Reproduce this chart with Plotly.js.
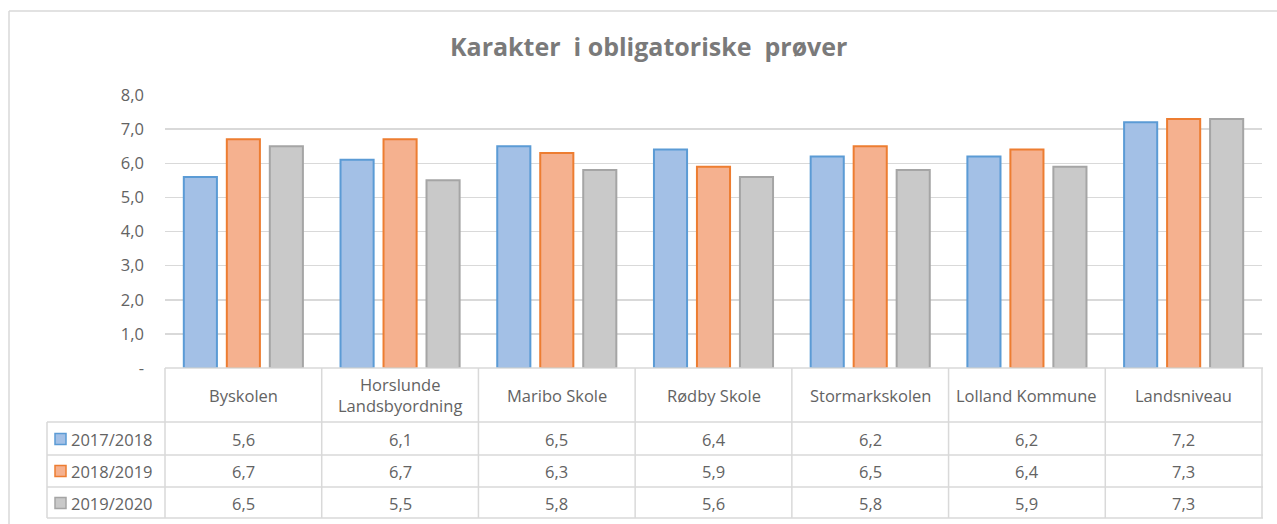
<!DOCTYPE html>
<html>
<head>
<meta charset="utf-8">
<script src="https://cdn.plot.ly/plotly-3.0.1.min.js"></script>
<style>html,body{margin:0;padding:0;background:#fff;}#chart{width:1277px;height:524px;}</style>
</head>
<body>
<div id="chart"></div>
<script>
var categories = ["Byskolen", "Horslunde Landsbyordning", "Maribo Skole", "Rødby Skole", "Stormarkskolen", "Lolland Kommune", "Landsniveau"];
var categoryLabels = ["Byskolen", "Horslunde<br>Landsbyordning", "Maribo Skole", "Rødby Skole", "Stormarkskolen", "Lolland Kommune", "Landsniveau"];
var seriesNames = ["2017/2018", "2018/2019", "2019/2020"];
var values2017 = [5.6, 6.1, 6.5, 6.4, 6.2, 6.2, 7.2];
var values2018 = [6.7, 6.7, 6.3, 5.9, 6.5, 6.4, 7.3];
var values2019 = [6.5, 5.5, 5.8, 5.6, 5.8, 5.9, 7.3];
var yTickVals = [0, 1, 2, 3, 4, 5, 6, 7, 8];
var yTickText = ["-", "1,0", "2,0", "3,0", "4,0", "5,0", "6,0", "7,0", "8,0"];

var seriesValues = [values2017, values2018, values2019];
var fills = ["#a3c0e6", "#f5b18f", "#c9c9c9"];
var outlines = ["#5b9bd5", "#ed7d31", "#a5a5a5"];

var W = 1277, H = 524;
var mL = 165, mR = 15, mT = 95, mB = 156;
var pw = W - mL - mR, ph = H - mT - mB;
function X(px) { return (px - mL) / pw; }
function Y(py) { return (H - mB - py) / ph; }

var xIdx = categories.map(function (c, i) { return i; });
var traces = seriesValues.map(function (vals, s) {
  return {
    type: "bar", name: seriesNames[s], x: xIdx, y: vals,
    marker: { color: fills[s], line: { color: outlines[s], width: 2 } },
    hoverinfo: "none"
  };
});

var grid = "#d9d9d9";
var shapes = [];
function line(x0, y0, x1, y1) {
  shapes.push({ type: "line", xref: "paper", yref: "paper", x0: X(x0), y0: Y(y0), x1: X(x1), y1: Y(y1),
    line: { color: grid, width: 1.5 }, layer: "above" });
}
// outer chart border
line(9, 11, 1290, 11);
line(9, 11, 9, 540);
// table
var tLeft = 47, tRight = 1263, tTop = 368, hBot = 422;
var rowLines = [422, 455, 487, 518];
line(mL, tTop, tRight, tTop);
rowLines.forEach(function (y) { line(tLeft, y, tRight, y); });
line(tLeft, hBot, tLeft, 518);
var colW = pw / categories.length;
for (var i = 0; i <= categories.length; i++) {
  line(mL + i * colW, tTop, mL + i * colW, 518);
}
// legend keys
var rowCenters = [439, 471, 503];
seriesNames.forEach(function (n, s) {
  var cy = rowCenters[s];
  shapes.push({ type: "rect", xref: "paper", yref: "paper",
    x0: X(55), x1: X(66), y0: Y(cy + 5.5), y1: Y(cy - 5.5),
    fillcolor: fills[s], line: { color: outlines[s], width: 1.5 }, layer: "above" });
});

var txt = "#636363";
var fnt = "'Open Sans', sans-serif";
var fs = 16.5;
var annotations = [];
categories.forEach(function (c, i) {
  annotations.push({ xref: "x", yref: "paper", x: i, y: Y(395), text: categoryLabels[i], showarrow: false,
    font: { family: fnt, size: fs, color: txt }, xanchor: "center", yanchor: "middle" });
  seriesValues.forEach(function (vals, s) {
    annotations.push({ xref: "x", yref: "paper", x: i, y: Y(rowCenters[s]),
      text: vals[i].toFixed(1).replace(".", ","), showarrow: false,
      font: { family: fnt, size: fs, color: txt }, xanchor: "center", yanchor: "middle" });
  });
});
seriesNames.forEach(function (n, s) {
  annotations.push({ xref: "paper", yref: "paper", x: X(69), y: Y(rowCenters[s]), text: n, showarrow: false,
    font: { family: fnt, size: fs, color: txt }, xanchor: "left", yanchor: "middle" });
});

var layout = {
  width: W, height: H,
  margin: { l: mL, r: mR, t: mT, b: mB, pad: 0 },
  paper_bgcolor: "#ffffff", plot_bgcolor: "#ffffff",
  title: { text: "<b>Karakter  i obligatoriske  prøver</b>", font: { family: fnt, size: 25, color: "#7a7a7a" },
    x: 0.508, xanchor: "center", y: 1 - 47 / H, yanchor: "middle", yref: "container" },
  showlegend: false,
  barmode: "group", bargap: 0.177, bargroupgap: 0.23,
  xaxis: { type: "linear", range: [-0.5, 6.5], showticklabels: false, showgrid: false, zeroline: false, showline: false, fixedrange: true },
  yaxis: { range: [0, 8], tickvals: yTickVals, ticktext: yTickText, showgrid: true, gridcolor: grid, gridwidth: 1.5,
    zeroline: false, showline: false, ticks: "", ticklabelstandoff: 20,
    tickfont: { family: fnt, size: fs, color: txt }, fixedrange: true },
  shapes: shapes, annotations: annotations
};
Plotly.newPlot("chart", traces, layout, { displayModeBar: false, staticPlot: true });
</script>
</body>
</html>
